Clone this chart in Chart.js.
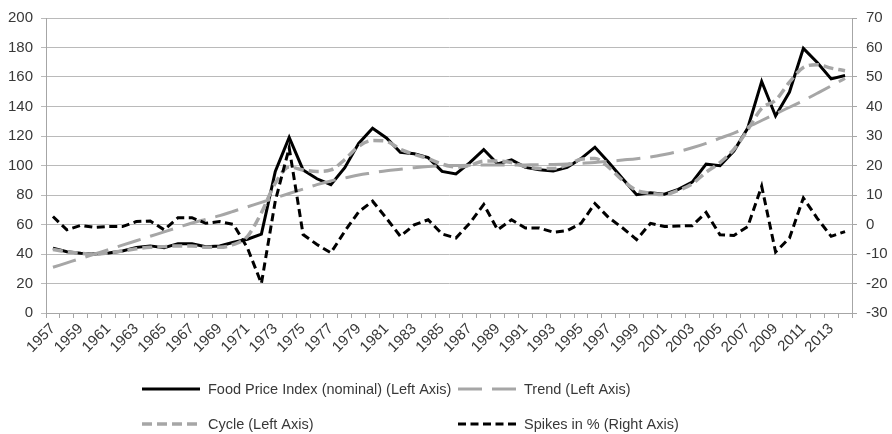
<!DOCTYPE html>
<html>
<head>
<meta charset="utf-8">
<script src="https://cdn.jsdelivr.net/npm/chart.js@4"></script>
<style>
html, body { margin: 0; padding: 0; background: #fff; }
#wrap { width: 892px; height: 434px; position: relative; }
</style>
</head>
<body>
<div id="wrap"><canvas id="chart"></canvas></div>
<script>
const years = ['1957','1958','1959','1960','1961','1962','1963','1964','1965','1966',
  '1967','1968','1969','1970','1971','1972','1973','1974','1975','1976',
  '1977','1978','1979','1980','1981','1982','1983','1984','1985','1986',
  '1987','1988','1989','1990','1991','1992','1993','1994','1995','1996',
  '1997','1998','1999','2000','2001','2002','2003','2004','2005','2006',
  '2007','2008','2009','2010','2011','2012','2013','2014'];

// left axis
const foodIndex = [44, 41.5, 40.5, 40, 40.7, 42, 44.5, 45.5, 44.2, 47,
  47, 45, 45.5, 48, 50, 53.5, 96, 119, 97, 91,
  87, 98.5, 115, 125.3, 118.7, 109, 108, 105.3, 96, 94.3,
  102, 110.8, 101, 103.8, 98.7, 97.1, 96.2, 98.7, 104.7, 112.4,
  102, 91, 80.2, 81.5, 80.5, 83.8, 88.7, 100.9, 99.8, 109.8,
  125.4, 157, 133.6, 149.8, 179.4, 169.8, 158.7, 161];

const trend = [31, 34, 37, 40, 43, 46, 49, 52, 55, 58,
  61, 63.5, 66, 69, 72, 75, 78, 81, 84, 87,
  89.5, 91.5, 93.5, 95, 96.5, 97.5, 98.5, 99.3, 99.8, 100,
  100.2, 100.3, 100.3, 100.3, 100.4, 100.5, 100.7, 101, 101.5, 102,
  102.8, 103.7, 104.6, 105.8, 107.5, 109.5, 112, 115, 118.5, 122,
  126, 130.5, 135, 139.5, 144, 149, 154, 159];

const cycle = [43, 41.5, 40.5, 40, 40.8, 42, 43.5, 44.5, 45, 45.5,
  45.5, 44.5, 44.5, 46.5, 52, 68, 88, 99, 97, 96,
  97, 104, 113, 117, 116.4, 111, 107.6, 104.7, 101, 99,
  100, 103, 103, 102, 99.3, 98, 98, 100.2, 104.2, 104.7,
  98.7, 89.8, 83.1, 81.2, 80.3, 83.1, 87.6, 95.4, 102, 111,
  124.3, 138.7, 144.3, 156.5, 166.5, 168.3, 166, 164.3];

// right axis, %
const spikes = [2.7, -1.8, -0.3, -1, -0.7, -0.7, 1, 1.2, -1.8, 2.3,
  2.3, 0.4, 1, 0, -8, -20, 8, 26, -3.4, -6.8,
  -9.6, -2.3, 4.3, 7.9, 2.1, -4, -0.1, 1.6, -3.2, -4.6,
  0.5, 6.8, -1.8, 1.6, -1.2, -1.2, -2.6, -2.1, 0.4, 7.1,
  2.3, -1.2, -5.1, 0.4, -0.7, -0.5, -0.4, 4.1, -3.5, -3.7,
  -0.7, 13, -9.3, -4.6, 9, 2.1, -4, -2.4];

const FONT_FAMILY = '"Liberation Sans", Arial, sans-serif';
const TEXT_COLOR = '#383838';
const AXIS_COLOR = '#a6a6a6';

Chart.defaults.font.family = FONT_FAMILY;
Chart.defaults.font.size = 15;
Chart.defaults.color = TEXT_COLOR;

// legend in two aligned columns under the axis
const legendSpots = [[142, 389], [458, 389], [142, 424], [458, 424]];
const bottomLegend = {
  id: 'bottomLegend',
  afterDraw(chart) {
    const ctx = chart.ctx;
    chart.data.datasets.forEach((ds, i) => {
      const [x, y] = legendSpots[i];
      ctx.save();
      ctx.strokeStyle = ds.borderColor;
      ctx.lineWidth = ds.borderWidth;
      ctx.setLineDash(ds.legendDash || []);
      ctx.beginPath();
      ctx.moveTo(x, y);
      ctx.lineTo(x + 58, y);
      ctx.stroke();
      ctx.setLineDash([]);
      ctx.fillStyle = TEXT_COLOR;
      ctx.font = '14.5px ' + FONT_FAMILY;
      ctx.textBaseline = 'middle';
      ctx.fillText(ds.label, x + 66, y + 1);
      ctx.restore();
    });
  }
};

new Chart(document.getElementById('chart'), {
  type: 'line',
  data: {
    labels: years,
    datasets: [
      {
        label: 'Food Price Index (nominal) (Left Axis)',
        data: foodIndex,
        yAxisID: 'y',
        borderColor: '#000000',
        borderWidth: 3,
        tension: 0,
        order: 4
      },
      {
        label: 'Trend (Left Axis)',
        data: trend,
        yAxisID: 'y',
        borderColor: '#a6a6a6',
        borderWidth: 3,
        borderDash: [24, 10],
        legendDash: [24, 10],
        cubicInterpolationMode: 'monotone',
        order: 3
      },
      {
        label: 'Cycle (Left Axis)',
        data: cycle,
        yAxisID: 'y',
        borderColor: '#a6a6a6',
        borderWidth: 3.5,
        borderDash: [10, 5],
        legendDash: [10, 5],
        cubicInterpolationMode: 'monotone',
        order: 2
      },
      {
        label: 'Spikes in % (Right Axis)',
        data: spikes,
        yAxisID: 'y1',
        borderColor: '#000000',
        borderWidth: 3,
        borderDash: [8, 4.5],
        legendDash: [8, 4.5],
        tension: 0,
        order: 1
      }
    ]
  },
  options: {
    responsive: true,
    maintainAspectRatio: false,
    animation: false,
    layout: { padding: { top: 13, left: 0, right: 0, bottom: 71 } },
    elements: { point: { radius: 0 } },
    plugins: {
      legend: { display: false },
      tooltip: { enabled: false }
    },
    scales: {
      x: {
        offset: true,
        grid: { offset: true, drawOnChartArea: false, tickLength: 5, color: AXIS_COLOR },
        border: { color: AXIS_COLOR },
        ticks: {
          autoSkip: false,
          minRotation: 45,
          maxRotation: 45,
          padding: 2,
          callback: function(value, index) {
            return index % 2 === 0 ? this.getLabelForValue(value) : '';
          }
        },
        afterFit: scale => { scale.height = 50; }
      },
      y: {
        position: 'left',
        min: 0,
        max: 200,
        ticks: { stepSize: 20, padding: 8 },
        grid: { color: '#bababa', tickLength: 5 },
        border: { color: AXIS_COLOR },
        afterFit: scale => { scale.width = 46; }
      },
      y1: {
        position: 'right',
        min: -30,
        max: 70,
        ticks: { stepSize: 10, padding: 9 },
        grid: { drawOnChartArea: false, tickLength: 5, color: AXIS_COLOR },
        border: { color: AXIS_COLOR },
        afterFit: scale => { scale.width = 40; }
      }
    }
  },
  plugins: [bottomLegend]
});
</script>
</body>
</html>
